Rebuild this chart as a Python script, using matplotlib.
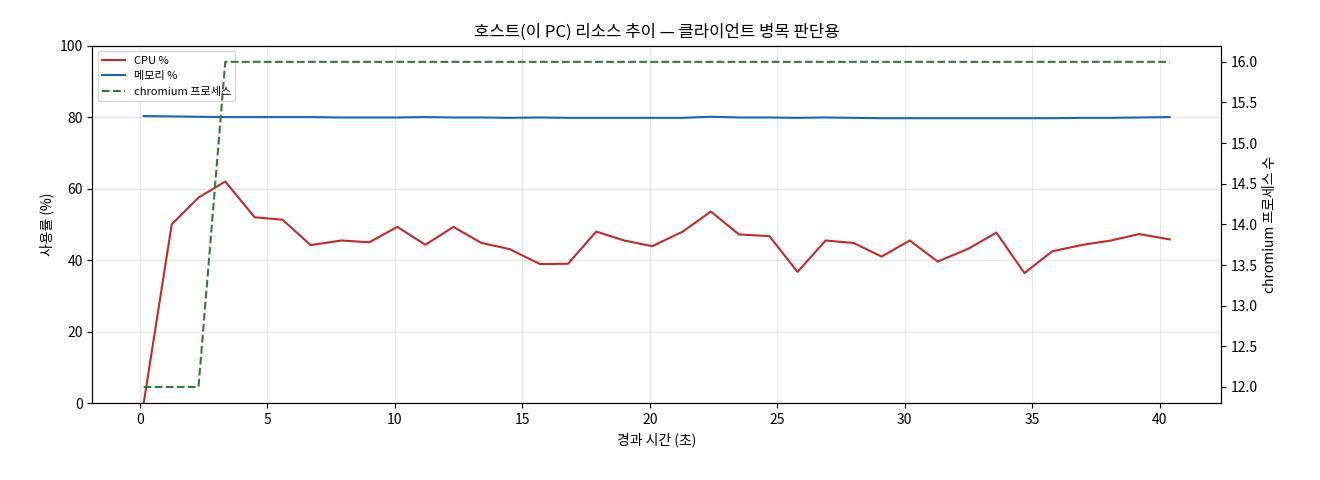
import matplotlib
matplotlib.use("Agg")
import matplotlib.pyplot as plt

plt.rcParams['font.family'] = ['Noto Sans CJK KR', 'DejaVu Sans']

elapsed = [0.15, 1.25, 2.3, 3.35, 4.5, 5.6, 6.7, 7.9, 9.0, 10.1, 11.2, 12.3, 13.4,
           14.5, 15.7, 16.8, 17.9, 19.0, 20.1, 21.3, 22.4, 23.5, 24.7, 25.8, 26.9,
           28.0, 29.1, 30.2, 31.3, 32.5, 33.6, 34.7, 35.8, 37.0, 38.1, 39.2, 40.4]
cpu = [0, 50, 57.5, 62, 52, 51.3, 44.2, 45.5, 45, 49.3, 44.3, 49.3, 44.8, 43.1,
       38.9, 39, 48, 45.5, 43.9, 48, 53.6, 47.2, 46.7, 36.7, 45.5, 44.8, 41, 45.5,
       39.6, 43.2, 47.7, 36.4, 42.5, 44.3, 45.5, 47.3, 45.8]
mem = [80.3, 80.2, 80.1, 80.0, 80.0, 80.0, 80.0, 79.9, 79.9, 79.9, 80.0, 79.9, 79.9,
       79.8, 79.9, 79.8, 79.8, 79.8, 79.8, 79.8, 80.1, 79.9, 79.9, 79.8, 79.9, 79.8,
       79.7, 79.7, 79.7, 79.7, 79.7, 79.7, 79.7, 79.8, 79.8, 79.9, 80.0]
procs = [12, 12, 12] + [16] * 34

fig, ax1 = plt.subplots(figsize=(13.2, 4.8), dpi=100)
l1, = ax1.plot(elapsed, cpu, color='#c62828', lw=1.5, label='CPU %')
l2, = ax1.plot(elapsed, mem, color='#1565c0', lw=1.5, label='메모리 %')
ax1.set_ylim(0, 100)
ax1.set_xlabel('경과 시간 (초)')
ax1.set_ylabel('사용률 (%)')
ax1.grid(True, alpha=0.3)

ax2 = ax1.twinx()
l3, = ax2.plot(elapsed, procs, color='#2e7d32', lw=1.5, ls='--', label='chromium 프로세스')
ax2.set_ylim(11.8, 16.2)
ax2.set_ylabel('chromium 프로세스 수')

ax1.legend(handles=[l1, l2, l3], loc='upper left', fontsize=8)
ax1.set_title('호스트(이 PC) 리소스 추이 — 클라이언트 병목 판단용')
fig.subplots_adjust(left=0.07, right=0.925, top=0.905, bottom=0.16)
fig.savefig('out.png')
